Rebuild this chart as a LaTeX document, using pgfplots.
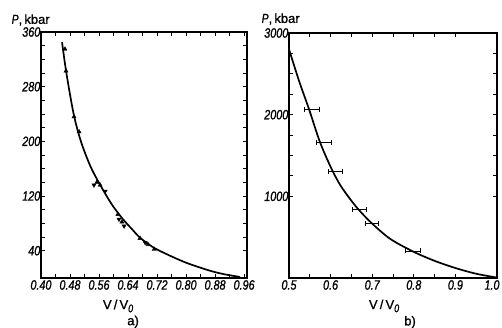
\documentclass[border=0pt]{standalone}
\usepackage{fontspec}
\setmainfont{Liberation Sans}
\newfontfamily\tickfont[FakeStretch=0.8,FakeBold=1]{Liberation Sans Italic}
\newfontfamily\labfont[FakeBold=1]{Liberation Sans}
\usepackage{pgfplots}
\pgfplotsset{compat=1.18}
\tikzset{lab/.style={font=\labfont\fontsize{13}{14}\selectfont}}
\pgfplotsset{
  myax/.style={
    scale only axis,
    anchor=south west,
    clip=false,
    axis line style={line width=1.1pt},
    tick style={line width=0.9pt,black},
    major tick length=4pt,
    minor tick length=4pt,
    tick align=inside,
    xtick pos=both, ytick pos=both,
    ticklabel style={font=\tickfont\fontsize{13.5}{14}\selectfont},
    /pgf/number format/assume math mode=true,
    /pgf/number format/1000 sep={},
    yticklabel style={inner xsep=0.5pt},
    xticklabel style={inner ysep=2pt},
  },
  curve/.style={black, line width=1.7pt, smooth, no marks},
}
\begin{document}
\begin{tikzpicture}
\useasboundingbox (0,0) rectangle (502pt,328pt);
% ---------- a)
\begin{axis}[myax,
  at={(41pt,50pt)}, width=206pt, height=246pt,
  xmin=0.40, xmax=0.968, ymin=0, ymax=360,
  xtick={0.40,0.48,0.56,0.64,0.72,0.80,0.88,0.96},
  minor x tick num=1,
  xticklabel style={/pgf/number format/fixed,/pgf/number format/precision=2,/pgf/number format/fixed zerofill},
  ytick={40,120,200,280,360}, minor y tick num=3,
]
\addplot[curve] coordinates {
(0.458,345) (0.470,300) (0.490,240) (0.510,200) (0.535,165) (0.557,142)
(0.582,119) (0.600,104) (0.626,86) (0.650,72) (0.673,59) (0.709,45)
(0.750,34) (0.797,23) (0.840,15) (0.877,9) (0.910,5) (0.949,1.5)};
\addplot[only marks, mark=triangle*, mark size=2.4pt, black] coordinates {
(0.466,335) (0.469,303) (0.491,236) (0.505,214) (0.554,140) (0.563,136)
(0.612,93) (0.623,82) (0.673,58) (0.695,49) (0.712,42)};
\addplot[only marks, mark=triangle*, mark size=2.4pt, black, mark options={rotate=180}] coordinates {
(0.546,136) (0.577,127) (0.615,86) (0.629,76) (0.687,52)};
\node[lab] at (axis description cs:0.374,-0.114) {V\,/\,V\raisebox{-0.45ex}{\tickfont\fontsize{11}{12}\selectfont 0}};
\node[lab] at (axis description cs:0.447,-0.178) {a)};
\node[lab] at (axis description cs:-0.05,1.049) {{\tickfont P},\,kbar};
\end{axis}
% ---------- b)
\begin{axis}[myax,
  at={(289pt,50pt)}, width=208pt, height=245pt,
  xmin=0.5, xmax=1.0, ymin=0, ymax=3000,
  xtick={0.5,0.6,0.7,0.8,0.9},
  extra x ticks={1.0}, extra x tick labels={1.0},
  extra x tick style={xticklabel style={xshift=-5pt}},
  minor x tick num=1,
  xticklabel style={/pgf/number format/fixed,/pgf/number format/precision=1,/pgf/number format/fixed zerofill},
  ytick={1000,2000,3000}, minor y tick num=3,
]
\addplot[curve] coordinates {
(0.500,2800) (0.525,2400) (0.548,2069) (0.574,1670) (0.601,1350) (0.623,1139)
(0.645,980) (0.666,845) (0.697,680) (0.743,480) (0.800,320) (0.850,210)
(0.900,122) (0.950,52) (1.000,5)};
\addplot[black, line width=0.9pt, draw=none, mark=none,
  error bars/.cd, x dir=both, x explicit,
  error bar style={line width=0.9pt, black},
  error mark options={rotate=90, mark size=2.5pt, line width=0.9pt, black}]
  coordinates {
(0.555,2069) +- (0.017,0)
(0.584,1657) +- (0.017,0)
(0.611,1310) +- (0.017,0)
(0.669,841) +- (0.016,0)
(0.700,670) +- (0.016,0)
(0.798,331) +- (0.017,0)};
\node[lab] at (axis description cs:0.457,-0.114) {V\,/\,V\raisebox{-0.45ex}{\tickfont\fontsize{11}{12}\selectfont 0}};
\node[lab] at (axis description cs:0.582,-0.18) {b)};
\node[lab] at (axis description cs:-0.04,1.057) {{\tickfont P},\,kbar};
\end{axis}
\end{tikzpicture}
\end{document}
